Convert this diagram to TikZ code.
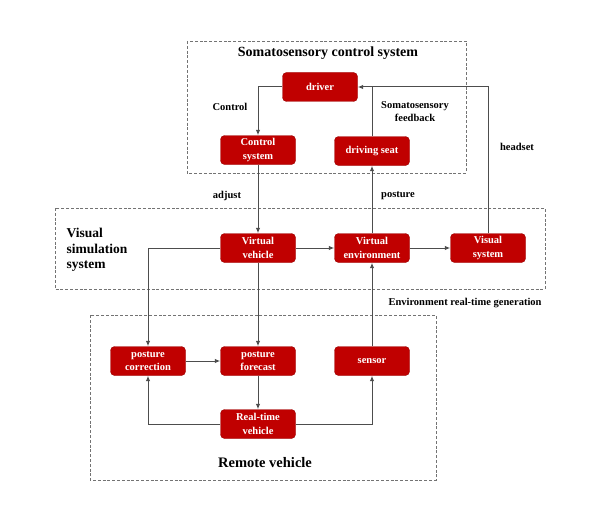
\documentclass[tikz,border=0pt]{standalone}
\usepackage{fontspec}
\setmainfont{Liberation Serif}
\usetikzlibrary{arrows.meta}
\definecolor{boxred}{HTML}{C00000}
\definecolor{linegray}{HTML}{4D4D4D}
\tikzset{
    unit/.style={fill=boxred, draw=boxred!80!black, rounded corners=4pt, text=white,
        font=\bfseries\fontsize{10.5}{13.5}\selectfont, align=center,
        minimum width=75pt, minimum height=29pt, inner sep=1pt},
    group/.style={draw=gray!90!black, dash pattern=on 3pt off 1.8pt, line width=0.9pt},
    arr/.style={-{Latex[length=5.5pt,width=4.5pt]}, draw=linegray, line width=1pt},
    link/.style={draw=linegray, line width=1pt},
    lbl/.style={font=\bfseries\fontsize{10.5}{13}\selectfont, align=center}
}
\begin{document}
\begin{tikzpicture}[x=1pt, y=-1pt]
        % page size
        \useasboundingbox (0,0) rectangle (603,511);
        % dashed groups
        \draw[group] (187,41) rectangle (466,173);
        \draw[group] (55,208) rectangle (545,289);
        \draw[group] (90,315) rectangle (436,480);
        % group titles
        \node[font=\bfseries\fontsize{14}{16}\selectfont] (somatitle) at (328,53) {Somatosensory control system};
        \node[font=\bfseries\fontsize{13.5}{15.5}\selectfont, align=left, anchor=west] (vistitle) at (63,250) {Visual\\simulation\\system};
        \node[font=\bfseries\fontsize{14.5}{16}\selectfont] (remotetitle) at (265,463) {Remote vehicle};
        % units
        \node[unit] (driver) at (320,87) {driver};
        \node[unit] (ctrl) at (258,150) {Control\\system};
        \node[unit] (seat) at (372,151) {driving seat};
        \node[unit] (vveh) at (258,248) {Virtual\\vehicle};
        \node[unit] (venv) at (372,248) {Virtual\\environment};
        \node[unit] (vis) at (488,248) {Visual\\system};
        \node[unit] (pcorr) at (148,361) {posture\\correction};
        \node[unit] (pfore) at (258,361) {posture\\forecast};
        \node[unit] (sensor) at (372,361) {sensor};
        \node[unit] (rveh) at (258,424) {Real-time\\vehicle};
        % connectors
        \draw[arr] (driver.west) -| (ctrl.north);
        \draw[arr] (ctrl) -- (vveh);
        \draw[arr] (vveh) -- (venv);
        \draw[arr] (venv) -- (vis);
        \draw[arr] (venv) -- (seat);
        \draw[arr] (vis.north) |- (driver.east);
        \draw[link] (seat.north) -- (seat.north |- driver.east);
        \draw[arr] (vveh.west) -| (pcorr.north);
        \draw[arr] (vveh) -- (pfore);
        \draw[arr] (pcorr) -- (pfore);
        \draw[arr] (pfore) -- (rveh);
        \draw[arr] (rveh.west) -| (pcorr.south);
        \draw[arr] (rveh.east) -| (sensor.south);
        \draw[arr] (sensor) -- (venv);
        % labels
        \node[lbl] (lcontrol) at (230,107) {Control};
        \node[lbl] (lfeed) at (415,112) {Somatosensory\\feedback};
        \node[lbl] (lhead) at (517,147) {headset};
        \node[lbl] (ladjust) at (227,196) {adjust};
        \node[lbl] (lposture) at (398,196) {posture};
        \node[lbl] (lenv) at (465,303) {Environment real-time generation};
\end{tikzpicture}
\end{document}
